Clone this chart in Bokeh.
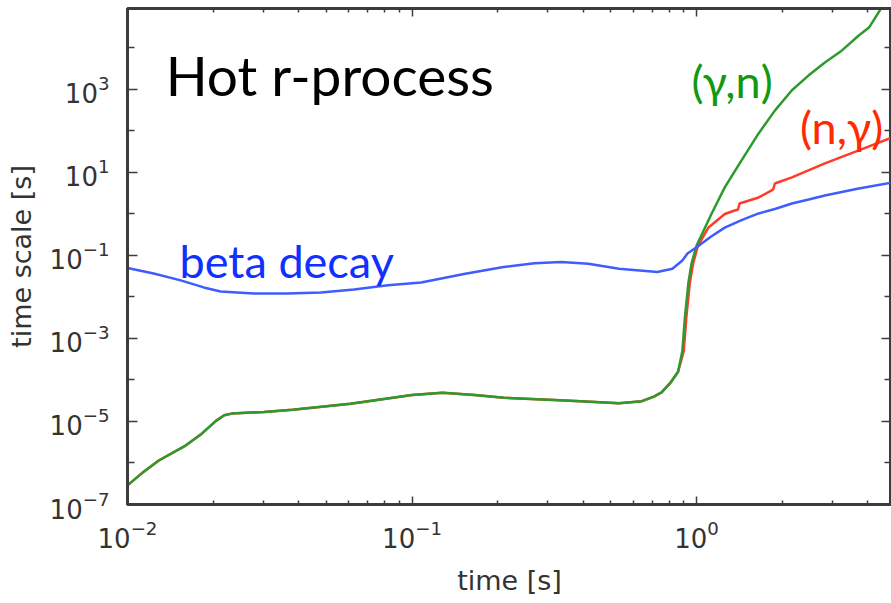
import numpy as np
from bokeh.plotting import figure
from bokeh.models import LogAxis, FixedTicker, Label, Range1d, CustomJSTickFormatter
from bokeh.embed import file_html
from bokeh.resources import INLINE

# ---- data (log10 of time [s] and time scale [s]) ----
beta_log_t = [-2.0, -1.908, -1.813, -1.732, -1.673, -1.556, -1.437, -1.32, -1.204,
              -1.085, -0.968, -0.813, -0.678, -0.570, -0.476, -0.38, -0.273, -0.138,
              -0.085, -0.050, -0.032, 0.0, 0.05, 0.099, 0.158, 0.218, 0.275, 0.335,
              0.394, 0.451, 0.51, 0.570, 0.687]
beta_log_tau = [-1.30, -1.434, -1.60, -1.77, -1.87, -1.916, -1.916, -1.89, -1.82,
                -1.72, -1.65, -1.44, -1.28, -1.19, -1.16, -1.20, -1.32, -1.40,
                -1.32, -1.12, -0.952, -0.80, -0.55, -0.33, -0.15, 0.012, 0.12, 0.253,
                0.35, 0.446, 0.53, 0.614, 0.759]

gn_log_t = [-2.0, -1.95, -1.89, -1.796, -1.74, -1.688, -1.66, -1.634, -1.52, -1.42,
            -1.216, -1.0, -0.893, -0.78, -0.677, -0.5, -0.408, -0.273, -0.192, -0.15,
            -0.123, -0.09, -0.065, -0.05, -0.041, -0.029, -0.0176, 0.0, 0.053, 0.099,
            0.158, 0.218, 0.275, 0.335, 0.394, 0.451, 0.511, 0.570, 0.606, 0.651, 0.70]
gn_log_tau = [-6.54, -6.25, -5.94, -5.58, -5.30, -4.98, -4.85, -4.81, -4.77, -4.72,
              -4.57, -4.36, -4.31, -4.36, -4.43, -4.48, -4.51, -4.56, -4.51, -4.40,
              -4.30, -4.05, -3.80, -3.30, -2.49, -1.67, -1.19, -0.76, 0.012, 0.639,
              1.289, 1.94, 2.49, 2.98, 3.34, 3.65, 3.94, 4.30, 4.49, 4.98, 5.3]

ng_log_t = [-2.0, -1.95, -1.89, -1.796, -1.74, -1.688, -1.66, -1.634, -1.52, -1.42,
            -1.216, -1.0, -0.893, -0.78, -0.677, -0.5, -0.408, -0.273, -0.192, -0.15,
            -0.123, -0.09, -0.065, -0.045, -0.036, -0.024, -0.012, 0.005, 0.042, 0.099,
            0.134, 0.145, 0.151, 0.218, 0.264, 0.270, 0.275, 0.335, 0.451, 0.570, 0.687]
ng_log_tau = [-6.54, -6.25, -5.94, -5.58, -5.30, -4.98, -4.85, -4.81, -4.77, -4.72,
              -4.57, -4.36, -4.31, -4.36, -4.43, -4.48, -4.51, -4.56, -4.51, -4.40,
              -4.30, -4.05, -3.80, -3.30, -2.49, -1.67, -1.19, -0.76, -0.325, 0.0,
              0.084, 0.10, 0.253, 0.398, 0.566, 0.60, 0.735, 0.88, 1.217, 1.53, 1.843]

x_major = [1e-2, 1e-1, 1e0]
x_minor = [0.02, 0.03, 0.04, 0.05, 0.06, 0.07, 0.08, 0.09,
           0.2, 0.3, 0.4, 0.5, 0.6, 0.7, 0.8, 0.9, 2.0, 3.0, 4.0]
y_major = [1e-7, 1e-5, 1e-3, 1e-1, 1e1, 1e3]
y_minor = [1e-6, 1e-4, 1e-2, 1e0, 1e2, 1e4]

BLUE = "#3f5cff"
GREEN = "#2c9a2c"
RED = "#ff3b2a"

p = figure(width=891, height=603, x_axis_type="log", y_axis_type="log",
           x_range=Range1d(10 ** -2, 10 ** 0.685), y_range=Range1d(1e-7, 10 ** 4.95),
           output_backend="svg", toolbar_location=None,
           min_border_left=127, min_border_top=8, min_border_right=0,
           min_border_bottom=99)
p.grid.visible = False
p.background_fill_color = "white"
p.outline_line_color = "#3c3c3c"
p.outline_line_width = 3

p.line(10 ** np.array(ng_log_t), 10 ** np.array(ng_log_tau), line_color=RED, line_width=2.5)
p.line(10 ** np.array(gn_log_t), 10 ** np.array(gn_log_tau), line_color=GREEN, line_width=2.5)
p.line(10 ** np.array(beta_log_t), 10 ** np.array(beta_log_tau), line_color=BLUE, line_width=2.5)

def style_axis(ax, major, minor, tin, min_in, labels=True):
    ax.ticker = FixedTicker(ticks=major, minor_ticks=minor)
    ax.major_tick_in = tin
    ax.major_tick_out = 0
    ax.minor_tick_in = min_in
    ax.minor_tick_out = 0
    ax.major_tick_line_color = "#3c3c3c"
    ax.minor_tick_line_color = "#3c3c3c"
    ax.major_tick_line_width = 1.5
    ax.minor_tick_line_width = 1.5
    ax.axis_line_color = "#3c3c3c"
    ax.axis_line_width = 3
    if labels:
        ax.major_label_text_font = "DejaVu Sans"
        ax.major_label_text_font_size = "26px"
        ax.major_label_text_color = "#333333"
        ax.axis_label_text_font = "DejaVu Sans"
        ax.axis_label_text_font_size = "27px"
        ax.axis_label_text_font_style = "normal"
        ax.axis_label_text_color = "#333333"
    else:
        ax.formatter = CustomJSTickFormatter(code="return ' ';")
        ax.major_label_text_font_size = "1px"
        ax.major_label_text_alpha = 0
        ax.major_label_standoff = 0

xa = p.xaxis[0]
style_axis(xa, x_major, x_minor, 8, 4)
xa.axis_label = "time [s]"
xa.major_label_standoff = 15
xa.axis_label_standoff = 14

ya = p.yaxis[0]
style_axis(ya, y_major, y_minor, 10, 7)
ya.axis_label = "time scale [s]"
ya.major_label_standoff = 18
ya.axis_label_standoff = 10

top = LogAxis()
style_axis(top, x_major, x_minor, 8, 4, labels=False)
p.add_layout(top, "above")
right = LogAxis()
style_axis(right, y_major, y_minor, 10, 7, labels=False)
p.add_layout(right, "right")

p.add_layout(Label(x=10 ** -1.866, y=10 ** 3.34, text="Hot r-process", text_font="Lato",
                   text_font_size="55px", text_color="black", text_baseline="alphabetic"))
p.add_layout(Label(x=10 ** -1.817, y=10 ** -1.14, text="beta decay", text_font="Lato",
                   text_font_size="45px", text_color="#1030ff", text_baseline="alphabetic"))
p.add_layout(Label(x=10 ** -0.0176, y=10 ** 3.21, text="(γ,n)", text_font="Lato",
                   text_font_size="45px", text_color="#129912", text_baseline="alphabetic"))
p.add_layout(Label(x=10 ** 0.363, y=10 ** 2.10, text="(n,γ)", text_font="Lato",
                   text_font_size="45px", text_color="#ff2a00", text_baseline="alphabetic"))

open("out.html", "w").write(file_html(p, INLINE))
